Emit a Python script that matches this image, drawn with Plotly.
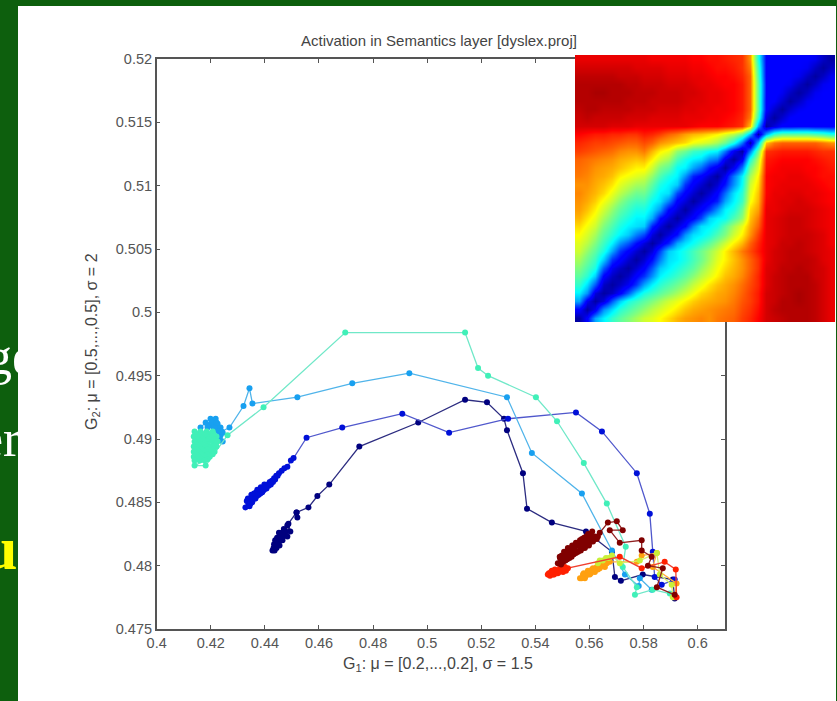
import plotly.graph_objects as go

TITLE = "Activation in Semantics layer [dyslex.proj]"
XLABEL = "G<sub>1</sub>: μ = [0.2,...,0.2], σ = 1.5"
YLABEL = "G<sub>2</sub>: μ = [0.5,...,0.5], σ = 2"
X_TICKS = [0.4, 0.42, 0.44, 0.46, 0.48, 0.5, 0.52, 0.54, 0.56, 0.58, 0.6]
Y_TICKS = [0.475, 0.48, 0.485, 0.49, 0.495, 0.5, 0.505, 0.51, 0.515, 0.52]

# Trajectories (G1, G2), one per stimulus
navy_x = [.4428,.4432,.4436,.4439,.4443,.4446,.4441,.4434,.4438,.4450,.4454,.4449,.4445,.4458,.4461,.4456,.4452,.4465,.4469,.4463,.4459,.4472,.4476,.4470,.4466,.4483,.4487,.4494,.4483,.4517,.4520,
          .4517,.4561,.4594,.4638,.4749,.4967,.5140,.5221,.5284,.5295,.5354,.5369,.5461,.5587,.5683,.5694,.5716,.5797,.5908,.5915]
navy_y = [.4812,.4814,.4812,.4816,.4814,.4818,.4819,.4817,.4820,.4819,.4816,.4821,.4822,.4822,.4824,.4824,.4826,.4820,.4825,.4826,.4820,.4828,.4827,.4829,.4823,.4823,.4833,.4827,.4832,.4842,.4838,
          .4842,.4846,.4855,.4864,.4894,.4913,.4931,.4929,.4916,.4907,.4873,.4845,.4834,.4827,.4811,.4791,.4788,.4793,.4789,.4774]

blue_x = [.4328,.4333,.4340,.4337,.4346,.4352,.4350,.4343,.4358,.4355,.4347,.4363,.4368,.4360,.4353,.4375,.4372,.4365,.4381,.4378,.4370,.4388,.4385,.4377,.4395,.4392,.4383,.4402,.4398,.4390,.4410,.4406,.4397,.4418,.4414,.4404,.4426,.4422,.4434,.4430,.4442,.4438,.4452,.4447,.4462,.4472,.4483,.4496,.4506,
          .4554,.4686,.4908,.5081,.5299,.5550,.5646,.5775,.5823,.5834,.5841,.5867,.5915]
blue_y = [.4846,.4851,.4849,.4853,.4852,.4851,.4856,.4847,.4855,.4853,.4849,.4853,.4858,.4857,.4850,.4856,.4860,.4853,.4859,.4857,.4855,.4858,.4862,.4856,.4861,.4859,.4857,.4862,.4864,.4858,.4864,.4861,.4860,.4866,.4863,.4862,.4867,.4864,.4869,.4866,.4871,.4868,.4873,.4871,.4875,.4877,.4878,.4883,.4885,
          .4901,.4909,.4920,.4905,.4916,.4921,.4906,.4873,.4841,.4811,.4791,.4785,.4789]

sky_x = [.4162,.4181,.4188,.4199,.4207,.4210,.4218,.4225,.4229,.4236,.4244,.4236,.4225,.4199,.4210,.4244,.4188,.4203,.4214,.4221,.4229,.4232,.4240,.4269,
         .4321,.4343,.4354,.4520,.4723,.4934,.5295,.5387,.5572,.5683,.5731,.5782,.5786,.5830]
sky_y = [.4909,.4913,.4909,.4911,.4905,.4913,.4916,.4912,.4909,.4903,.4898,.4909,.4907,.4916,.4909,.4905,.4911,.4913,.4909,.4913,.4906,.4900,.4906,.4909,
         .4926,.4940,.4928,.4933,.4944,.4952,.4933,.4889,.4857,.4812,.4793,.4784,.4790,.4781]

mint_x = [.4140,.4162,.4185,.4207,.4144,.4166,.4188,.4210,.4137,.4159,.4181,.4203,.4221,.4148,.4170,.4192,.4214,.4140,.4162,.4185,.4207,.4225,.4144,.4166,.4188,.4210,.4218,
          .4137,.4159,.4181,.4203,.4221,.4144,.4166,.4188,.4210,.4137,.4155,.4177,.4199,.4214,.4144,.4166,.4188,.4207,.4137,.4155,.4177,.4196,.4148,.4166,.4188,.4140,.4159,.4177,.4140,.4181,
          .4262,.4395,.4697,.5140,.5188,.5225,.5402,.5480,.5579,.5664,.5734,.5723,.5775,.5768,.5834,.5897]
mint_y = [.4906,.4906,.4906,.4906,.4904,.4904,.4904,.4904,.4902,.4902,.4902,.4902,.4902,.4900,.4900,.4900,.4900,.4898,.4898,.4898,.4898,.4898,.4896,.4896,.4896,.4896,.4896,
          .4894,.4894,.4894,.4894,.4894,.4892,.4892,.4892,.4892,.4890,.4890,.4890,.4890,.4890,.4888,.4888,.4888,.4888,.4886,.4886,.4886,.4886,.4884,.4884,.4884,.4883,.4883,.4883,.4879,.4879,
          .4903,.4925,.4984,.4984,.4956,.4950,.4933,.4914,.4881,.4849,.4815,.4799,.4783,.4777,.4781,.4778]

orange_x = [.5915,.5922,.5834,.5849,.5793,.5775,.5675,.5664,.5657,.5649,.5653,.5642,.5638,.5631,.5627,.5620,.5613,.5609,.5605,.5601,.5594,.5590,.5587,.5583,.5579,.5576,.5571,.5565]
orange_y = [.4775,.4786,.4799,.4810,.4808,.4803,.4803,.4802,.4799,.4800,.4802,.4801,.4798,.4797,.4799,.4795,.4798,.4797,.4794,.4793,.4796,.4794,.4792,.4790,.4794,.4793,.4790,.4790]

lime_x = [.5908,.5904,.5860,.5849,.5786,.5712,.5683,.5672,.5661,.5649,.5638,.5631]
lime_y = [.4775,.4785,.4793,.4810,.4804,.4802,.4808,.4806,.4806,.4804,.4804,.4802]

red_x = [.5922,.5919,.5878,.5793,.5712,.5520,.5513,.5509,.5502,.5498,.5494,.5491,.5487,.5483,.5476,.5472,.5469,.5465,.5461,.5458,.5454,.5450,.5446]
red_y = [.4775,.4797,.4803,.4798,.4807,.4798,.4796,.4799,.4795,.4796,.4799,.4798,.4795,.4794,.4796,.4797,.4793,.4793,.4796,.4795,.4792,.4794,.4793]

maroon_x = [.5915,.5849,.5871,.5816,.5830,.5793,.5793,.5712,.5675,.5723,.5701,.5668,
            .5638,.5631,.5627,.5620,.5613,.5605,.5598,.5590,.5583,.5583,.5576,.5568,.5561,.5553,.5546,.5546,.5539,.5531,.5528,.5520,.5513,.5509,.5506,.5498,.5491,.5483,
            .5490,.5498,.5506,.5513,.5520,.5528,.5536,.5543,.5550,.5558,.5565,.5572,.5580,.5588,.5595,.5603,.5610,
            .5614,.5606,.5598,.5590,.5582,.5574,.5566,.5558,.5550,.5542,.5534,.5526,.5518,.5511,.5503,.5495]
maroon_y = [.4777,.4783,.4798,.4800,.4807,.4812,.4820,.4818,.4828,.4828,.4835,.4834,
            .4826,.4823,.4821,.4823,.4819,.4822,.4816,.4819,.4814,.4818,.4818,.4812,.4816,.4811,.4815,.4811,.4809,.4813,.4808,.4811,.4805,.4808,.4808,.4803,.4806,.4802,
            .4807,.4808,.4811,.4811,.4814,.4813,.4816,.4816,.4818,.4818,.4820,.4821,.4822,.4823,.4825,.4825,.4827,
            .4821,.4819,.4818,.4816,.4815,.4814,.4813,.4811,.4810,.4809,.4807,.4806,.4805,.4804,.4803,.4801]

SERIES = [
    ("navy", navy_x, navy_y, "#00007f", "#2c2c80"),
    ("blue", blue_x, blue_y, "#0010d8", "#5058cc"),
    ("sky", sky_x, sky_y, "#18a0f0", "#50b4ea"),
    ("mint", mint_x, mint_y, "#40f0b8", "#70e8c8"),
    ("orange", orange_x, orange_y, "#ffa010", "#ffb040"),
    ("lime", lime_x, lime_y, "#c8f038", "#d8f070"),
    ("red", red_x, red_y, "#ff2000", "#f04030"),
    ("maroon", maroon_x, maroon_y, "#800000", "#902020"),
]

# Similarity matrix, upper triangle by row (percent of the jet range)
SIMILARITY = [
 [3,12,30,38,45,50,54,58,62,64,67,70,73,75,76,77,76,78,79,80,83,85,88,92,93,94,95,95,95,94,92,90],
 [3,10,28,36,44,48,52,56,60,63,66,69,72,74,75,76,77,78,79,82,84,87,92,94,95,95,95,95,94,92,90],
 [3,8,22,34,42,46,50,54,58,62,65,68,71,73,74,75,76,78,81,83,86,92,93,95,95,96,95,94,92,90],
 [3,6,12,22,34,42,46,50,54,58,62,66,70,72,74,75,77,80,83,86,92,93,94,95,96,95,94,92,90],
 [3,6,10,18,30,38,44,48,52,56,61,65,69,72,74,76,79,82,85,91,93,94,95,95,95,94,92,90],
 [3,6,12,18,28,38,42,46,50,55,60,64,68,72,74,77,81,85,91,93,94,95,95,95,93,92,90],
 [3,7,12,22,34,38,42,46,50,56,61,66,70,73,76,80,84,91,92,94,94,95,94,93,92,90],
 [3,7,14,26,36,38,42,47,52,58,64,68,72,76,80,84,90,92,93,94,94,94,93,91,90],
 [3,8,20,34,38,42,47,52,57,62,68,73,78,82,86,90,92,93,94,94,93,92,91,90],
 [3,8,16,30,36,40,45,50,56,62,68,73,80,85,90,91,93,93,94,93,92,91,89],
 [3,8,14,28,36,38,42,48,54,62,68,76,83,90,91,92,93,93,93,92,91,89],
 [3,8,13,26,36,38,42,50,58,65,74,80,90,91,92,93,93,92,91,90,89],
 [3,8,12,20,34,38,40,48,56,72,78,90,91,92,93,93,92,91,90,89],
 [3,8,12,18,28,38,42,52,70,75,90,90,91,92,92,92,91,90,89],
 [3,7,11,16,30,38,46,66,73,89,90,91,91,92,91,90,89,88],
 [3,7,12,24,36,44,64,72,88,90,90,91,91,90,90,89,88],
 [3,7,15,28,40,62,70,88,89,90,90,90,90,89,88,87],
 [3,10,25,38,58,68,88,89,89,90,90,89,88,87,87],
 [3,10,25,52,64,87,88,89,89,89,88,88,87,86],
 [3,10,42,60,86,87,88,88,88,88,87,86,85],
 [3,25,52,84,85,86,86,86,86,85,84,84],
 [3,32,72,78,80,80,80,80,80,78,76],
 [3,30,45,50,50,50,50,48,46,42],
 [3,8,12,12,13,13,12,12,12],
 [3,7,11,12,12,12,12,11],
 [3,7,10,11,12,12,11],
 [3,6,10,11,11,11],
 [3,6,10,11,11],
 [3,6,10,11],
 [3,6,10],
 [3,6],
 [3],
]
N = len(SIMILARITY)
z = [[0] * N for _ in range(N)]
for i, row in enumerate(SIMILARITY):
    for k, v in enumerate(row):
        z[i][i + k] = v
        z[i + k][i] = v

JET = [[0, "#00007f"], [0.11, "#0000ff"], [0.13, "#0000ff"], [0.39, "#00ffff"], [0.54, "#7fff7f"],
       [0.67, "#ffff00"], [0.88, "#ff0000"], [1, "#7f0000"]]

W, H = 837, 701
GREEN = "#0d5f0d"
fig = go.Figure()

for name, xs, ys, mc, lc in SERIES:
    fig.add_trace(go.Scatter(x=xs, y=ys, mode="lines+markers", name=name, showlegend=False,
                             line=dict(color=lc, width=1.3), marker=dict(color=mc, size=6),
                             xaxis="x", yaxis="y", cliponaxis=True))

fig.add_trace(go.Heatmap(z=z, colorscale=JET, zmin=0, zmax=100, zsmooth="best", showscale=False,
                         xaxis="x2", yaxis="y2"))

# Slide text behind the chart panel, clipped by the narrow strip
fig.add_trace(go.Scatter(x=[-14, -20, -17], y=[361, 443, 553], text=["ge", "er", "<b>u</b>"], mode="text",
                         textposition="middle right", xaxis="x3", yaxis="y3", showlegend=False,
                         textfont=dict(family="Liberation Serif", size=[52, 52, 62], color=["white", "white", "#ffff00"]),
                         cliponaxis=True, hoverinfo="skip"))

AXIS_GREY = "#555555"
frame = dict(showgrid=False, zeroline=False, showline=True, linecolor=AXIS_GREY, linewidth=1.5, mirror="ticks",
             ticks="inside", ticklen=4, tickcolor=AXIS_GREY, tickwidth=1, automargin=False,
             tickfont=dict(family="Liberation Sans", size=14.5, color="#555555"))

fig.update_layout(
    width=W, height=H, autosize=False, margin=dict(l=0, r=0, t=0, b=0, autoexpand=False),
    paper_bgcolor="white", plot_bgcolor="rgba(0,0,0,0)", showlegend=False,
    xaxis=dict(domain=[156.7 / W, 725 / W], range=[0.4, 0.6101], tickvals=X_TICKS,
               ticktext=[f"{v:g}" for v in X_TICKS], anchor="y", **frame),
    yaxis=dict(domain=[(H - 629) / H, (H - 59) / H], range=[0.475, 0.52], tickvals=Y_TICKS,
               ticktext=[f"{v:g}" for v in Y_TICKS], anchor="x", **frame),
    xaxis2=dict(domain=[575 / W, 835 / W], visible=False, anchor="y2", range=[-0.5, N - 0.5]),
    yaxis2=dict(domain=[(H - 322) / H, (H - 55) / H], visible=False, anchor="x2", range=[-0.5, N - 0.5]),
    xaxis3=dict(domain=[0, 18 / W], visible=False, anchor="y3", range=[0, 18]),
    yaxis3=dict(domain=[0, 1], visible=False, anchor="x3", range=[H, 0]),
    shapes=[
        dict(type="rect", xref="paper", yref="paper", x0=0, x1=18 / W, y0=0, y1=1, fillcolor=GREEN, line_width=0, layer="below"),
        dict(type="rect", xref="paper", yref="paper", x0=0, x1=1, y0=(H - 6) / H, y1=1, fillcolor=GREEN, line_width=0, layer="below"),
        dict(type="rect", xref="paper", yref="paper", x0=836 / W, x1=1, y0=0, y1=1, fillcolor=GREEN, line_width=0, layer="below"),
    ],
    annotations=[
        dict(text=TITLE, xref="paper", yref="paper", x=438.5 / W, y=(H - 41) / H, showarrow=False,
             xanchor="center", yanchor="middle", font=dict(family="Liberation Sans", size=15, color="#444444")),
        dict(text=XLABEL, xref="paper", yref="paper", x=437.5 / W, y=(H - 664) / H, showarrow=False,
             xanchor="center", yanchor="middle", font=dict(family="Liberation Sans", size=16, color="#444444")),
        dict(text=YLABEL, xref="paper", yref="paper", x=92 / W, y=(H - 342) / H, showarrow=False, textangle=-90,
             xanchor="center", yanchor="middle", font=dict(family="Liberation Sans", size=16, color="#444444")),
    ],
)

fig.write_html("out.html", config={"displayModeBar": False},
               post_script="document.documentElement.style.overflow='hidden';document.body.style.margin='0';")
